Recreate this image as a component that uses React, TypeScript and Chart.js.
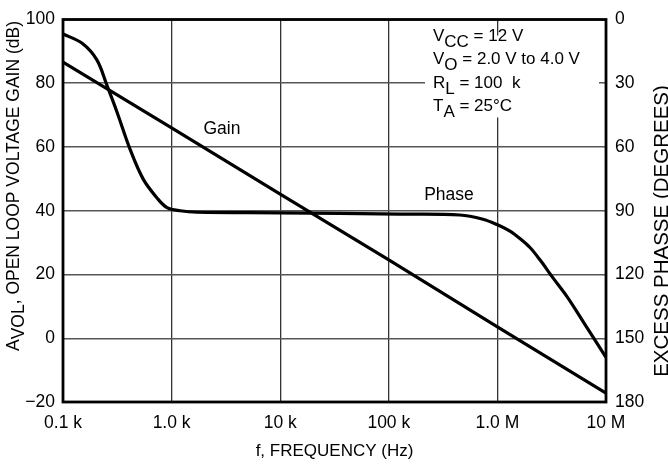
import React, { useEffect, useRef } from "react";
import { Chart, registerables } from "chart.js";

Chart.register(...registerables);

// ---- data ----
const gainFreq = [100, 1e3, 1e4, 1e5, 1e6, 1e7];
const gainDb = [86.6, 66, 45.2, 24.6, 3.6, -17.2];

const phaseFreq = [
  100, 150, 205, 254, 314, 414, 546, 734, 907, 1200, 1714, 10000, 127000,
  452000, 736000, 991000, 1306000, 1614000, 1995000, 2466000, 3250000,
  4375000, 5760000, 7580000, 10000000,
];
const phaseDeg = [
  6.8, 11.2, 19, 31, 43.5, 61, 75, 84, 88.5, 90, 90.7, 91, 91.6, 92, 94, 96.5,
  99.6, 103.1, 107.3, 113.1, 121.6, 130.4, 139.8, 149.4, 159,
];

const freqTicks = [100, 1e3, 1e4, 1e5, 1e6, 1e7];
const freqTickLabels = ["0.1 k", "1.0 k", "10 k", "100 k", "1.0 M", "10 M"];
const gainTicks = [-20, 0, 20, 40, 60, 80, 100];
const phaseTicks = [0, 30, 60, 90, 120, 150, 180];

const FONT = "'Liberation Sans', Arial, Helvetica, sans-serif";

type Part = [string, boolean];
const conditions: Part[][] = [
  [["V", false], ["CC", true], [" = 12 V", false]],
  [["V", false], ["O", true], [" = 2.0 V to 4.0 V", false]],
  [["R", false], ["L", true], [" = 100  k", false]],
  [["T", false], ["A", true], [" = 25°C", false]],
];
const leftTitle: Part[] = [["A", false], ["VOL", true], [", OPEN LOOP VOLTAGE GAIN (dB)", false]];
const rightTitle = "EXCESS PHASSE (DEGREES)";
const bottomTitle = "f, FREQUENCY (Hz)";
const gainLabel = { text: "Gain", f: 2910, db: 65.7 };
const phaseLabel = { text: "Phase", f: 358000, db: 44.9 };

function drawParts(ctx: CanvasRenderingContext2D, parts: Part[], x: number, y: number, sub: number) {
  let cx = x;
  for (const [t, s] of parts) {
    ctx.fillText(t, cx, y + (s ? sub : 0));
    cx += ctx.measureText(t).width;
  }
}
function partsWidth(ctx: CanvasRenderingContext2D, parts: Part[]) {
  return parts.reduce((a, [t]) => a + ctx.measureText(t).width, 0);
}

const annotations = {
  id: "annotations",
  beforeDatasetsDraw(chart: any) {
    const { ctx, chartArea: a } = chart;
    ctx.save();
    ctx.fillStyle = "#fff";
    ctx.fillRect(425, a.top + 16, a.right - 7 - 425, 82);
    ctx.restore();
  },
  afterDatasetsDraw(chart: any) {
    const { ctx, chartArea: a } = chart;
    const xs = chart.scales.x;
    const ys = chart.scales.y;
    ctx.save();
    // frame
    ctx.strokeStyle = "#000";
    ctx.lineWidth = 2.8;
    ctx.strokeRect(a.left, a.top, a.right - a.left, a.bottom - a.top);

    ctx.fillStyle = "#000";
    ctx.font = `17.5px ${FONT}`;
    ctx.textBaseline = "middle";
    ctx.textAlign = "center";
    ctx.fillText(gainLabel.text, xs.getPixelForValue(gainLabel.f), ys.getPixelForValue(gainLabel.db));
    ctx.fillText(phaseLabel.text, xs.getPixelForValue(phaseLabel.f), ys.getPixelForValue(phaseLabel.db));

    // conditions
    ctx.textAlign = "left";
    ctx.textBaseline = "alphabetic";
    ctx.font = `17px ${FONT}`;
    conditions.forEach((line, i) => {
      drawParts(ctx, line, 433, a.top + 21 + i * 23.5, 6);
    });

    // bottom title
    ctx.textAlign = "center";
    ctx.textBaseline = "middle";
    ctx.font = `17px ${FONT}`;
    ctx.fillText(bottomTitle, (a.left + a.right) / 2, 451);

    // left title
    ctx.font = `17.5px ${FONT}`;
    ctx.textAlign = "left";
    ctx.save();
    ctx.translate(14, 186);
    ctx.rotate(-Math.PI / 2);
    const w = partsWidth(ctx, leftTitle);
    drawParts(ctx, leftTitle, -w / 2, 0, 5);
    ctx.restore();

    // right title
    ctx.font = `20.5px ${FONT}`;
    ctx.textAlign = "center";
    ctx.save();
    ctx.translate(662, 231);
    ctx.rotate(-Math.PI / 2);
    ctx.fillText(rightTitle, 0, 0);
    ctx.restore();
    ctx.restore();
  },
};

export default function App() {
  const ref = useRef<HTMLCanvasElement | null>(null);
  useEffect(() => {
    document.body.style.margin = "0";
    const canvas = ref.current!;
    const chart = new Chart(canvas, {
      type: "line",
      data: {
        datasets: [
          {
            label: "Gain",
            data: gainFreq.map((f, i) => ({ x: f, y: gainDb[i] })),
            borderColor: "#000",
            borderWidth: 3.2,
            pointRadius: 0,
            yAxisID: "y",
          },
          {
            label: "Phase",
            data: phaseFreq.map((f, i) => ({ x: f, y: phaseDeg[i] })),
            borderColor: "#000",
            borderWidth: 3.2,
            pointRadius: 0,
            tension: 0.35,
            yAxisID: "y2",
          },
        ],
      },
      options: {
        animation: false,
        responsive: false,
        maintainAspectRatio: false,
        devicePixelRatio: 1,
        layout: { padding: { top: 17, left: 0, right: 0, bottom: 0 } },
        plugins: { legend: { display: false }, tooltip: { enabled: false } },
        scales: {
          x: {
            type: "logarithmic",
            min: 100,
            max: 1e7,
            afterBuildTicks: (axis: any) => {
              axis.ticks = freqTicks.map((v) => ({ value: v }));
            },
            afterFit: (axis: any) => {
              axis.height = 63;
            },
            ticks: {
              autoSkip: false,
              maxRotation: 0,
              color: "#000",
              padding: 11,
              font: { family: FONT, size: 17.5 },
              callback: (_v: any, i: number) => freqTickLabels[i],
            },
            grid: { color: "#333", lineWidth: 1.3, drawTicks: false },
            border: { display: false },
          },
          y: {
            type: "linear",
            position: "left",
            min: gainTicks[0],
            max: gainTicks[gainTicks.length - 1],
            afterBuildTicks: (axis: any) => {
              axis.ticks = gainTicks.map((v) => ({ value: v }));
            },
            afterFit: (axis: any) => {
              axis.width = 63;
            },
            ticks: {
              color: "#000",
              padding: 8,
              font: { family: FONT, size: 17.5 },
              callback: (v: any) => (v < 0 ? "\u2212" + Math.abs(v) : String(v)),
            },
            grid: { color: "#555", lineWidth: 1.5, drawTicks: false },
            border: { display: false },
          },
          y2: {
            type: "linear",
            position: "right",
            reverse: true,
            min: phaseTicks[0],
            max: phaseTicks[phaseTicks.length - 1],
            afterBuildTicks: (axis: any) => {
              axis.ticks = phaseTicks.map((v) => ({ value: v }));
            },
            afterFit: (axis: any) => {
              axis.width = 62;
            },
            ticks: {
              color: "#000",
              padding: 9,
              font: { family: FONT, size: 17.5 },
            },
            grid: { display: false, drawTicks: false },
            border: { display: false },
          },
        },
      },
      plugins: [annotations],
    } as any);
    return () => chart.destroy();
  }, []);
  return (
    <div style={{ width: 668, height: 465 }}>
      <canvas ref={ref} width={668} height={465} style={{ display: "block" }} />
    </div>
  );
}
